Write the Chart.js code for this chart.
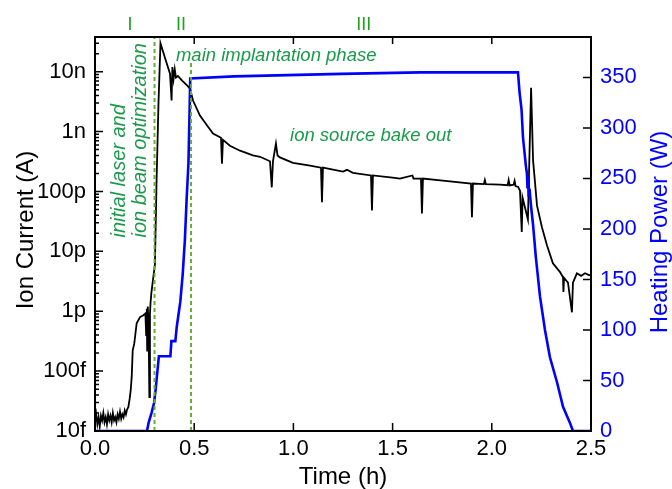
<!DOCTYPE html>
<html>
<head>
<meta charset="utf-8">
<script src="https://cdn.jsdelivr.net/npm/chart.js@4"></script>
<style>
  html, body { margin: 0; padding: 0; background: #fff; }
  #c { display: block; }
</style>
</head>
<body>
<canvas id="c" width="672" height="489"></canvas>
<script>
// === DATA ===
// ion current (A)
const timeCurrent = [
  0.000, 0.006, 0.012, 0.018, 0.024, 0.030, 0.036, 0.042, 0.048, 0.054,
  0.060, 0.066, 0.072, 0.078, 0.084, 0.090, 0.096, 0.102, 0.108, 0.114,
  0.120, 0.126, 0.132, 0.138, 0.144, 0.150, 0.156, 0.162, 0.168, 0.175,
  0.180, 0.185, 0.190, 0.198, 0.210, 0.227, 0.244, 0.254, 0.258, 0.261,
  0.263, 0.266, 0.270, 0.274, 0.277, 0.280, 0.284, 0.292, 0.302, 0.310,
  0.320, 0.330, 0.353, 0.378, 0.386, 0.390, 0.396, 0.402, 0.408, 0.418,
  0.439, 0.464, 0.479, 0.494, 0.529, 0.565, 0.595, 0.635, 0.640, 0.645,
  0.680, 0.731, 0.796, 0.832, 0.882, 0.891, 0.897, 0.912, 0.920, 0.932,
  0.998, 1.084, 1.139, 1.144, 1.149, 1.250, 1.270, 1.300, 1.391, 1.396,
  1.401, 1.500, 1.537, 1.600, 1.605, 1.643, 1.648, 1.653, 1.789, 1.895,
  1.900, 1.905, 1.960, 1.965, 1.970, 2.041, 2.080, 2.085, 2.090, 2.110,
  2.115, 2.120, 2.132, 2.142, 2.151, 2.155, 2.182, 2.198, 2.208, 2.228,
  2.253, 2.278, 2.308, 2.344, 2.359, 2.361, 2.364, 2.384, 2.404, 2.409,
  2.429, 2.450, 2.470, 2.490, 2.500
];
const ionCurrent = [
  1.4e-14, 1.9e-14, 1.3e-14, 1.7e-14, 1.2e-14, 1.8e-14, 1.5e-14, 2.0e-14, 1.4e-14, 1.7e-14,
  1.3e-14, 1.9e-14, 1.5e-14, 1.8e-14, 1.4e-14, 2.0e-14, 1.5e-14, 1.7e-14, 1.4e-14, 1.9e-14,
  1.6e-14, 2.1e-14, 1.6e-14, 1.9e-14, 1.7e-14, 2.2e-14, 1.9e-14, 2.3e-14, 2.5e-14, 3.5e-14,
  4.8e-14, 8e-14, 2.2e-13, 2.9e-13, 6.3e-13, 8e-13, 8.6e-13, 9.2e-13, 4e-13, 1.1e-12,
  2.2e-13, 1.2e-12, 6e-13, 3.7e-14, 9e-13, 1.4e-12, 2e-12, 3.3e-12, 6e-12, 1.35e-10,
  3e-9, 3e-8, 1.7e-8, 9.3e-9, 3.3e-9, 1.2e-8, 7.6e-9, 1.1e-8, 8e-9, 8.5e-9,
  7.1e-9, 5.9e-9, 5.2e-9, 3.3e-9, 1.85e-9, 1.26e-9, 9.3e-10, 7.9e-10, 2.9e-10, 7.3e-10,
  5.8e-10, 4.8e-10, 4e-10, 3.8e-10, 3.2e-10, 1.17e-10, 3.2e-10, 6.3e-10, 4e-10, 3.7e-10,
  3e-10, 2.7e-10, 2.5e-10, 6.6e-11, 2.5e-10, 2.15e-10, 2.3e-10, 2.05e-10, 1.85e-10, 4.8e-11,
  1.85e-10, 1.7e-10, 1.64e-10, 1.85e-10, 1.64e-10, 1.64e-10, 4.3e-11, 1.64e-10, 1.47e-10, 1.36e-10,
  3.7e-11, 1.36e-10, 1.33e-10, 1.55e-10, 1.33e-10, 1.3e-10, 1.27e-10, 1.55e-10, 1.26e-10, 1.3e-10,
  1.5e-10, 1.22e-10, 1.2e-10, 1.04e-10, 2.1e-11, 7.9e-11, 3.4e-11, 5.4e-9, 3.3e-10, 5.8e-11,
  2.5e-11, 1.26e-11, 6.3e-12, 4.5e-12, 3.7e-12, 2.1e-12, 3.6e-12, 3e-12, 9.6e-13, 3e-12,
  4.3e-12, 3.9e-12, 4.3e-12, 4e-12, 4e-12
];

// heating power (W)
const timePower = [
  0.000, 0.262, 0.270, 0.285, 0.298, 0.305, 0.322, 0.380, 0.385, 0.405,
  0.412, 0.430, 0.442, 0.453, 0.462, 0.471, 0.477, 0.480, 0.700, 1.240,
  1.640, 2.132, 2.140, 2.150, 2.157, 2.172, 2.177, 2.180, 2.183, 2.186,
  2.190, 2.198, 2.208, 2.222, 2.243, 2.268, 2.293, 2.329, 2.359, 2.394,
  2.409, 2.500
];
const heatingPower = [
  0, 0, 8, 18, 28, 40, 74, 74, 89, 89,
  103, 128, 155, 189, 230, 265, 320, 349, 351, 353.5,
  355, 355, 335, 318, 291, 262, 255, 240, 252, 232,
  240, 222, 204, 172, 133, 100, 73, 48, 24, 8,
  0, 0
];

// phases
const phaseBounds = [0.300, 0.484];
const phaseLineTop = [3.8e-8, 1.4e-8];
const phaseNames = ["I", "II", "III"];
const phaseNameTimes = [0.176, 0.434, 1.355];

// tick labels
const decadeLabels = { "-14": "10f", "-13": "100f", "-12": "1p", "-11": "10p", "-10": "100p", "-9": "1n", "-8": "10n" };

const FONT = "'Liberation Sans', Arial, sans-serif";
const GREEN_TXT = "#1b9a4b";

// === PLUGINS ===
function decade(v) {
  const e = Math.floor(Math.log10(v) + 1e-9);
  const m = v / Math.pow(10, e);
  return { e, m };
}

const cadreTicks = {
  id: "cadreTicks",
  afterDatasetsDraw(chart) {
    const { ctx, chartArea: a, scales } = chart;
    ctx.save();
    ctx.strokeStyle = "#000";
    ctx.lineWidth = 1.5;
    ctx.beginPath();
    scales.x.ticks.forEach(t => {
      const px = scales.x.getPixelForValue(t.value);
      ctx.moveTo(px, a.bottom); ctx.lineTo(px, a.bottom - 8);
      ctx.moveTo(px, a.top); ctx.lineTo(px, a.top + 7);
    });
    scales.y.ticks.forEach(t => {
      const { m } = decade(t.value);
      if (Math.abs(m - Math.round(m)) > 1e-6) return;
      const len = Math.round(m) === 1 ? 8 : 4;
      const py = scales.y.getPixelForValue(t.value);
      ctx.moveTo(a.left, py); ctx.lineTo(a.left + len, py);
    });
    scales.y1.ticks.forEach(t => {
      if (t.value % 50) return;
      const py = scales.y1.getPixelForValue(t.value);
      ctx.moveTo(a.right, py); ctx.lineTo(a.right - 8, py);
    });
    ctx.stroke();
    ctx.lineWidth = 2;
    ctx.strokeRect(a.left, a.top, a.right - a.left, a.bottom - a.top);
    ctx.restore();
  }
};

const textes = {
  id: "textes",
  afterDraw(chart) {
    const { ctx, chartArea: a, scales } = chart;
    const X = v => scales.x.getPixelForValue(v);
    const Y = v => scales.y.getPixelForValue(v);
    ctx.save();

    // axis titles
    ctx.fillStyle = "#000";
    ctx.font = `24px ${FONT}`;
    ctx.textAlign = "center";
    ctx.textBaseline = "alphabetic";
    ctx.fillText("Time (h)", (a.left + a.right) / 2, 484);

    ctx.save();
    ctx.translate(33, (a.top + a.bottom) / 2 - 4);
    ctx.rotate(-Math.PI / 2);
    ctx.fillText("Ion Current (A)", 0, 0);
    ctx.restore();

    ctx.save();
    ctx.fillStyle = "#0000ff";
    ctx.translate(667, (a.top + a.bottom) / 2 - 2);
    ctx.rotate(-Math.PI / 2);
    ctx.fillText("Heating Power (W)", 0, 0);
    ctx.restore();

    // phase numbers
    ctx.fillStyle = "#1fa01f";
    ctx.font = `18px ${FONT}`;
    phaseNames.forEach((n, i) => ctx.fillText(n, X(phaseNameTimes[i]), 30));

    // annotations
    ctx.fillStyle = GREEN_TXT;
    ctx.font = `italic 18.5px ${FONT}`;
    ctx.textAlign = "left";
    ctx.fillText("main implantation phase", X(0.408), Y(1.5e-8));
    ctx.fillText("ion source bake out", X(0.983), Y(7.1e-10));

    ctx.font = `italic 20px ${FONT}`;
    [["initial laser and", 0.151], ["ion beam optimization", 0.257]].forEach(([txt, t]) => {
      ctx.save();
      ctx.translate(X(t), Y(1.7e-11));
      ctx.rotate(-Math.PI / 2);
      ctx.fillText(txt, 0, 0);
      ctx.restore();
    });
    ctx.restore();
  }
};

// === CHART ===
const ptsCourant = timeCurrent.map((t, i) => ({ x: t, y: ionCurrent[i] }));
const ptsPuissance = timePower.map((t, i) => ({ x: t, y: heatingPower[i] }));
const lignesPhase = phaseBounds.map((t, i) => ({
  type: "line",
  data: [{ x: t, y: 1e-14 }, { x: t, y: phaseLineTop[i] }],
  borderColor: "#63b032",
  borderWidth: 2,
  borderDash: [4, 3],
  pointRadius: 0,
  yAxisID: "y",
  order: 0
}));

new Chart(document.getElementById("c"), {
  type: "line",
  data: {
    datasets: [
      ...lignesPhase,
      {
        label: "Heating Power",
        data: ptsPuissance,
        borderColor: "#0000ff",
        borderWidth: 2.6,
        pointRadius: 0,
        tension: 0,
        yAxisID: "y1",
        order: 1
      },
      {
        label: "Ion Current",
        data: ptsCourant,
        borderColor: "#000",
        borderWidth: 1.8,
        pointRadius: 0,
        tension: 0,
        yAxisID: "y",
        order: 2
      }
    ]
  },
  options: {
    responsive: false,
    animation: false,
    devicePixelRatio: 1,
    layout: { padding: { top: 37, left: 0, right: 0, bottom: 0 } },
    plugins: { legend: { display: false }, tooltip: { enabled: false } },
    scales: {
      x: {
        type: "linear", min: 0, max: 2.5,
        grid: { display: false, drawTicks: false },
        border: { display: false },
        ticks: { stepSize: 0.5, padding: 5, color: "#000", font: { family: FONT, size: 22 },
                 callback: v => v.toFixed(1) },
        afterFit: s => { s.height = 58; }
      },
      y: {
        type: "logarithmic", position: "left", min: 1e-14, max: 3.8e-8,
        grid: { display: false, drawTicks: false },
        border: { display: false },
        ticks: {
          autoSkip: false, padding: 9, color: "#000", font: { family: FONT, size: 22 },
          callback: v => {
            const { e, m } = decade(v);
            return Math.abs(m - 1) < 1e-6 ? (decadeLabels[e] || "") : "";
          }
        },
        afterFit: s => { s.width = 95; }
      },
      y1: {
        type: "linear", position: "right", min: 0, max: 390,
        grid: { display: false, drawTicks: false },
        border: { display: false },
        ticks: { stepSize: 50, padding: 9, color: "#0000ff", font: { family: FONT, size: 22 },
                 callback: v => (v % 50 ? "" : v) },
        afterFit: s => { s.width = 81; }
      }
    }
  },
  plugins: [cadreTicks, textes]
});
</script>
</body>
</html>
